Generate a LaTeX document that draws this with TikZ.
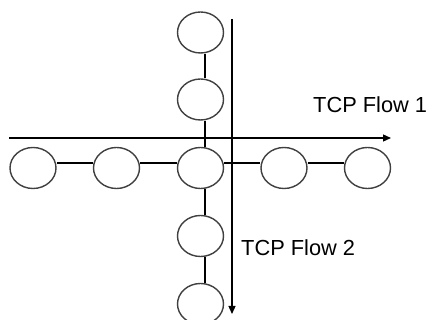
\documentclass[tikz,border=0pt]{standalone}
\usepackage{fontspec}
\setmainfont{Liberation Sans}
\usetikzlibrary{shapes.geometric,arrows.meta}
\begin{document}
\begin{tikzpicture}[x=1pt,y=-1pt,
  hop/.style={ellipse,draw=black!75,line width=1.4pt,minimum width=46pt,minimum height=41pt,inner sep=0pt},
  link/.style={draw=black,line width=1.4pt},
  flow/.style={draw=black,line width=1.3pt,-{Triangle[length=8pt,width=7pt]}},
  lbl/.style={font=\fontsize{21.8}{23}\selectfont,inner sep=0pt,anchor=west}]
\useasboundingbox (0,0) rectangle (431,320);
\clip (0,0) rectangle (431,320);
\node[hop] (t1) at (200.5,32.5) {};
\node[hop] (t2) at (200.5,99.5) {};
\node[hop] (c) at (200.5,168) {};
\node[hop] (b1) at (200.5,236) {};
\node[hop] (b2) at (200.5,304) {};
\node[hop] (l2) at (33,168) {};
\node[hop] (l1) at (116.5,168) {};
\node[hop] (r1) at (284,168) {};
\node[hop] (r2) at (367.5,168) {};
\draw[link] ([xshift=4.5pt]t1.south) -- ([xshift=4.5pt]t2.north);
\draw[link] ([xshift=4.5pt]t2.south) -- ([xshift=4.5pt]c.north);
\draw[link] ([xshift=4.5pt]c.south) -- ([xshift=4.5pt]b1.north);
\draw[link] ([xshift=4.5pt]b1.south) -- ([xshift=4.5pt]b2.north);
\draw[link] ([yshift=5pt]l2.east) -- ([yshift=5pt]l1.west);
\draw[link] ([yshift=5pt]l1.east) -- ([yshift=5pt]c.west);
\draw[link] ([yshift=5pt]c.east) -- ([yshift=5pt]r1.west);
\draw[link] ([yshift=5pt]r1.east) -- ([yshift=5pt]r2.west);
\coordinate (h0) at (9,138);
\coordinate (h1) at (391,138);
\coordinate (v0) at (232,19);
\coordinate (v1) at (232,314);
\draw[flow] (h0) -- (h1);
\draw[flow] (v0) -- (v1);
\node[lbl] (f1) at (313,105) {TCP Flow 1};
\node[lbl] (f2) at (241,248) {TCP Flow 2};
\end{tikzpicture}
\end{document}
